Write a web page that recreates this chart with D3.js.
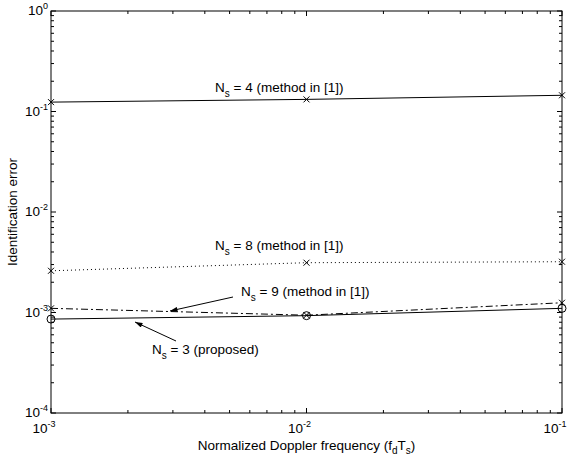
<!DOCTYPE html>
<html>
<head>
<meta charset="utf-8">
<script src="https://cdn.jsdelivr.net/npm/d3@7"></script>
<style>
  body { margin: 0; background: #fff; }
  svg { font-family: "Liberation Sans", Arial, sans-serif; }
</style>
</head>
<body>
<svg id="chart" width="569" height="458"></svg>
<script>
// data
const fd = [0.001, 0.01, 0.1];
const ns4 = [0.124, 0.132, 0.145];
const ns8 = [0.0026, 0.00313, 0.0032];
const ns9 = [0.0011, 0.00094, 0.00125];
const ns3 = [0.00086, 0.00093, 0.0011];
const xTickExp = [-3, -2, -1];
const yTickExp = [-4, -3, -2, -1, 0];

const svg = d3.select("#chart");
const margin = { top: 11, right: 7, bottom: 45, left: 51 };
const width = 569, height = 458;
const fs = 13.5;
const x = d3.scaleLog().domain([1e-3, 1e-1]).range([margin.left, width - margin.right]);
const y = d3.scaleLog().domain([1e-4, 1]).range([height - margin.bottom, margin.top]);
const x0 = x.range()[0], x1 = x.range()[1], y0 = y.range()[0], y1 = y.range()[1];

// minor + major ticks (inward, all four sides)
const g = svg.append("g").attr("stroke", "#000").attr("stroke-width", 1);
const minor = (lo, hi) => {
  const out = [];
  for (let e = lo; e < hi; e++) for (let m = 2; m <= 9; m++) out.push(m * Math.pow(10, e));
  return out;
};
minor(-3, -1).forEach(v => {
  g.append("line").attr("x1", x(v)).attr("x2", x(v)).attr("y1", y0).attr("y2", y0 - 3);
  g.append("line").attr("x1", x(v)).attr("x2", x(v)).attr("y1", y1).attr("y2", y1 + 3);
});
xTickExp.forEach(e => {
  const v = Math.pow(10, e);
  g.append("line").attr("x1", x(v)).attr("x2", x(v)).attr("y1", y0).attr("y2", y0 - 5);
  g.append("line").attr("x1", x(v)).attr("x2", x(v)).attr("y1", y1).attr("y2", y1 + 5);
});
minor(-4, 0).forEach(v => {
  g.append("line").attr("x1", x0).attr("x2", x0 + 3).attr("y1", y(v)).attr("y2", y(v));
  g.append("line").attr("x1", x1).attr("x2", x1 - 3).attr("y1", y(v)).attr("y2", y(v));
});
yTickExp.forEach(e => {
  const v = Math.pow(10, e);
  g.append("line").attr("x1", x0).attr("x2", x0 + 5).attr("y1", y(v)).attr("y2", y(v));
  g.append("line").attr("x1", x1).attr("x2", x1 - 5).attr("y1", y(v)).attr("y2", y(v));
});

// tick labels: 10 with exponent
xTickExp.forEach(e => {
  const t = svg.append("text").attr("x", x(Math.pow(10, e)) - 7).attr("y", y0 + 20)
    .attr("font-size", fs).attr("text-anchor", "middle");
  t.append("tspan").text("10");
  t.append("tspan").attr("dy", -6).attr("font-size", 9).text(e);
});
yTickExp.forEach(e => {
  const t = svg.append("text").attr("x", x0 - 3).attr("y", y(Math.pow(10, e)) + 4)
    .attr("font-size", fs).attr("text-anchor", "end");
  t.append("tspan").text("10");
  t.append("tspan").attr("dy", -6).attr("font-size", 9).text(e);
});

// series
const line = d3.line().x((d, i) => x(fd[i])).y(d => y(d));
const series = [
  { v: ns4, dash: null, mark: "x" },
  { v: ns8, dash: "1,3", mark: "x" },
  { v: ns9, dash: "7,3,2,3", mark: "x" },
  { v: ns3, dash: null, mark: "o" }
];
series.forEach(s => {
  svg.append("path").datum(s.v).attr("d", line).attr("fill", "none")
    .attr("stroke", "#000").attr("stroke-width", 1).attr("stroke-dasharray", s.dash);
  s.v.forEach((d, i) => {
    const cx = x(fd[i]), cy = y(d);
    if (s.mark === "x") {
      svg.append("path").attr("d", `M${cx - 3},${cy - 3}L${cx + 3},${cy + 3}M${cx - 3},${cy + 3}L${cx + 3},${cy - 3}`)
        .attr("stroke", "#000").attr("stroke-width", 1);
    } else {
      svg.append("circle").attr("cx", cx).attr("cy", cy).attr("r", 4)
        .attr("fill", "none").attr("stroke", "#000").attr("stroke-width", 1);
    }
  });
});

// frame
svg.append("rect").attr("x", x0).attr("y", y1).attr("width", x1 - x0).attr("height", y0 - y1)
  .attr("fill", "none").attr("stroke", "#000").attr("stroke-width", 1);

// annotations
const label = (px, py, n, rest) => {
  const t = svg.append("text").attr("x", px).attr("y", py).attr("font-size", fs);
  t.append("tspan").text("N");
  t.append("tspan").attr("dy", 5).attr("font-size", 10).text("s");
  t.append("tspan").attr("dy", -5).text(` = ${n} ${rest}`);
};
label(215, 92, 4, "(method in [1])");
label(215, 250, 8, "(method in [1])");
label(241, 296, 9, "(method in [1])");
label(152, 354, 3, "(proposed)");

svg.append("defs").append("marker").attr("id", "ah").attr("viewBox", "0 0 12 8")
  .attr("refX", 12).attr("refY", 4).attr("markerWidth", 12).attr("markerHeight", 5)
  .attr("markerUnits", "userSpaceOnUse").attr("orient", "auto")
  .append("path").attr("d", "M0,0L12,4L0,8Z").attr("fill", "#000");
svg.append("line").attr("x1", 233).attr("y1", 297).attr("x2", 170).attr("y2", 311)
  .attr("stroke", "#000").attr("marker-end", "url(#ah)");
svg.append("line").attr("x1", 176).attr("y1", 341).attr("x2", 135).attr("y2", 322)
  .attr("stroke", "#000").attr("marker-end", "url(#ah)");

// axis titles
const xl = svg.append("text").attr("x", (x0 + x1) / 2).attr("y", 450)
  .attr("font-size", fs).attr("text-anchor", "middle");
xl.append("tspan").text("Normalized Doppler frequency (f");
xl.append("tspan").attr("dy", 4).attr("font-size", 10).text("d");
xl.append("tspan").attr("dy", -4).text("T");
xl.append("tspan").attr("dy", 4).attr("font-size", 10).text("s");
xl.append("tspan").attr("dy", -4).text(")");

svg.append("text").attr("transform", `translate(17,${(y0 + y1) / 2}) rotate(-90)`)
  .attr("font-size", fs).attr("text-anchor", "middle").text("Identification error");
</script>
</body>
</html>
